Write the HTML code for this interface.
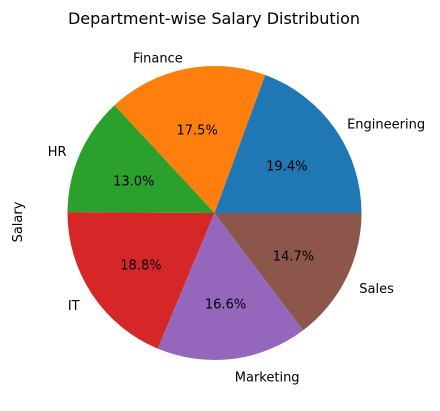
<!DOCTYPE html>
<html><head><meta charset="utf-8"><style>
html,body{margin:0;padding:0;background:#fff}
svg{display:block;font-family:"DejaVu Sans","Liberation Sans",sans-serif}
</style></head><body>
<svg id="chart" width="440" height="411" viewBox="0 0 440 411">
<text x="214" y="24" text-anchor="middle" font-size="16" fill="#000">Department-wise Salary Distribution</text>
<text x="0" y="0" transform="translate(22,222) rotate(-90)" text-anchor="middle" font-size="13" fill="#000">Salary</text>
<g id="slices"></g>
</svg>
<script>
const categories = ["Engineering","Finance","HR","IT","Marketing","Sales"];
const values = [19.4,17.5,13.0,18.8,16.6,14.7];
const pctLabels = ["19.4%","17.5%","13.0%","18.8%","16.6%","14.7%"];
const colors = ["#1f77b4","#ff7f0e","#2ca02c","#d62728","#9467bd","#8c564b"];
const cx=214.5, cy=213, r=147;
const ns="http://www.w3.org/2000/svg";
const g=document.getElementById('slices');
const total=values.reduce((a,b)=>a+b,0);
let start=0;
function pt(a,rad){return [cx+rad*Math.cos(a), cy-rad*Math.sin(a)];}
values.forEach((v,i)=>{
  const sweep=v/total*2*Math.PI, end=start+sweep;
  const [x1,y1]=pt(start,r),[x2,y2]=pt(end,r);
  const p=document.createElementNS(ns,'path');
  p.setAttribute('d',`M${cx},${cy} L${x1},${y1} A${r},${r} 0 ${sweep>Math.PI?1:0} 0 ${x2},${y2} Z`);
  p.setAttribute('fill',colors[i]);
  
  
  g.appendChild(p);
  const mid=(start+end)/2;
  const [px,py]=pt(mid,0.6*r);
  const t=document.createElementNS(ns,'text');
  t.setAttribute('x',px);t.setAttribute('y',py+8);
  t.setAttribute('text-anchor','middle');t.setAttribute('font-size','13');
  t.textContent=pctLabels[i];
  
  
  g.appendChild(t);
  const [lx,ly]=pt(mid,1.1*r);
  const l=document.createElementNS(ns,'text');
  l.setAttribute('x',lx);l.setAttribute('y',ly+8);
  l.setAttribute('text-anchor',Math.cos(mid)>=0?'start':'end');
  l.setAttribute('font-size','13');
  l.textContent=categories[i];
  
  
  g.appendChild(l);
  start=end;
});
</script>
</body></html>
